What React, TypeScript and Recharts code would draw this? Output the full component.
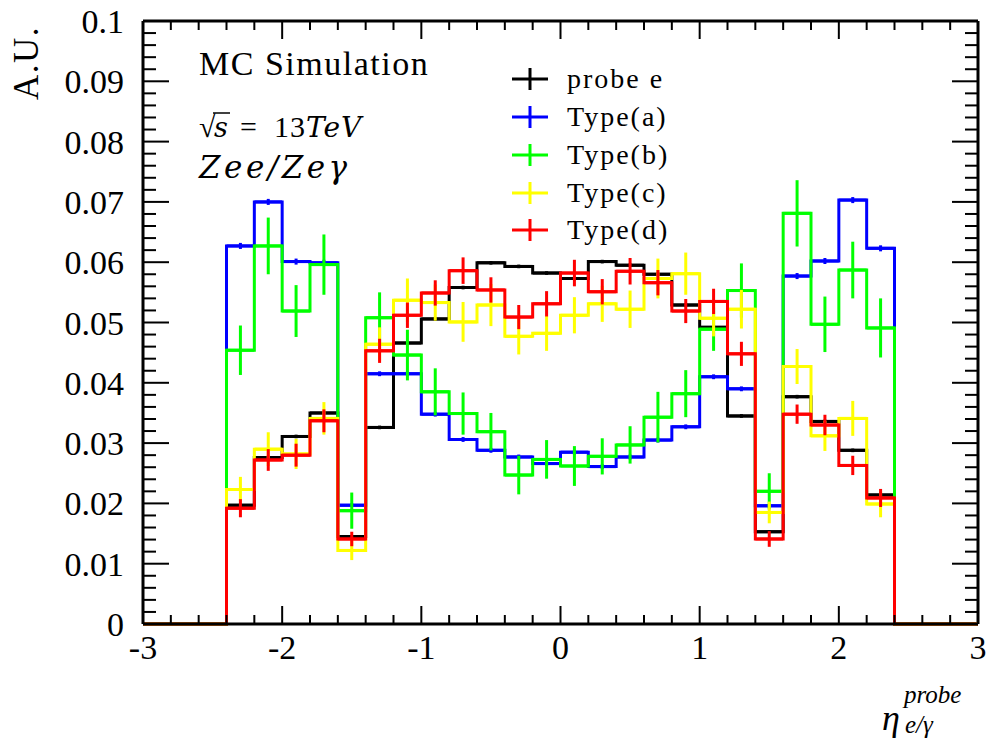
import React from "react";
import {
  ComposedChart,
  Line,
  Scatter,
  ErrorBar,
  XAxis,
  YAxis,
  ReferenceLine,
} from "recharts";

// bin edges of the eta histogram (0.2 wide)
const binEdges = [
  -3, -2.8, -2.6, -2.4, -2.2, -2, -1.8, -1.6, -1.4, -1.2, -1, -0.8, -0.6, -0.4, -0.2, 0,
  0.2, 0.4, 0.6, 0.8, 1, 1.2, 1.4, 1.6, 1.8, 2, 2.2, 2.4, 2.6, 2.8, 3,
];

const probeE = [
  0, 0, 0, 0.0197, 0.0276, 0.0311, 0.035, 0.0145, 0.0326, 0.0466, 0.0506, 0.0558, 0.0599, 0.0593, 0.0582,
  0.0573, 0.0601, 0.0595, 0.058, 0.0529, 0.0492, 0.0345, 0.0153, 0.0377, 0.0336, 0.0288, 0.0214, 0, 0, 0,
];
const typeA = [
  0, 0, 0, 0.0627, 0.07, 0.0601, 0.0599, 0.0197, 0.0415, 0.0415, 0.0348, 0.0306, 0.0288, 0.0277, 0.0266,
  0.0285, 0.0261, 0.0277, 0.0305, 0.0327, 0.041, 0.039, 0.0196, 0.0577, 0.0602, 0.0703, 0.0623, 0, 0, 0,
];
const typeB = [
  0, 0, 0, 0.0454, 0.0627, 0.0519, 0.0596, 0.0188, 0.0508, 0.0446, 0.0385, 0.0349, 0.0319, 0.0247, 0.0273,
  0.0262, 0.0278, 0.0297, 0.0343, 0.0382, 0.0489, 0.0553, 0.022, 0.0681, 0.0497, 0.0587, 0.0491, 0, 0, 0,
];
const typeC = [
  0, 0, 0, 0.0223, 0.029, 0.0282, 0.0341, 0.0122, 0.0464, 0.0537, 0.0533, 0.0501, 0.0529, 0.0477, 0.0482,
  0.0512, 0.0531, 0.0522, 0.0573, 0.0581, 0.0507, 0.0522, 0.0185, 0.0427, 0.0312, 0.0341, 0.0199, 0, 0, 0,
];
const typeD = [
  0, 0, 0, 0.0192, 0.0272, 0.028, 0.0337, 0.0141, 0.0453, 0.0512, 0.0549, 0.0586, 0.0554, 0.0509, 0.0531,
  0.0582, 0.0551, 0.0585, 0.0566, 0.0519, 0.0535, 0.0448, 0.0141, 0.0348, 0.033, 0.0263, 0.0209, 0, 0, 0,
];

// statistical errors per bin
const probeErr = [
  0, 0, 0, 0.0003, 0.0003, 0.0003, 0.0003, 0.0002, 0.0003, 0.0003, 0.0003, 0.0003, 0.0003, 0.0003, 0.0003,
  0.0003, 0.0003, 0.0003, 0.0003, 0.0003, 0.0003, 0.0003, 0.0002, 0.0003, 0.0003, 0.0003, 0.0003, 0, 0, 0,
];
const typeAErr = [
  0, 0, 0, 0.0005, 0.0005, 0.0005, 0.0005, 0.0003, 0.0004, 0.0004, 0.0004, 0.0004, 0.0004, 0.0004, 0.0004,
  0.0004, 0.0004, 0.0004, 0.0004, 0.0004, 0.0004, 0.0004, 0.0003, 0.0005, 0.0005, 0.0005, 0.0005, 0, 0, 0,
];
const typeBErr = [
  0, 0, 0, 0.0041, 0.0047, 0.0043, 0.005, 0.003, 0.0042, 0.0042, 0.0039, 0.0035, 0.0031, 0.0032, 0.0032,
  0.0033, 0.003, 0.0031, 0.0042, 0.0039, 0.0036, 0.0045, 0.003, 0.0055, 0.0046, 0.0047, 0.0049, 0, 0, 0,
];
const typeCErr = [
  0, 0, 0, 0.0021, 0.0028, 0.0025, 0.0027, 0.0016, 0.0028, 0.0036, 0.003, 0.0033, 0.0035, 0.003, 0.0029,
  0.003, 0.003, 0.0031, 0.0033, 0.0035, 0.003, 0.0032, 0.0018, 0.0029, 0.0025, 0.0029, 0.0022, 0, 0, 0,
];
const typeDErr = [
  0, 0, 0, 0.0015, 0.0018, 0.0019, 0.0019, 0.0012, 0.002, 0.0021, 0.0021, 0.0022, 0.0021, 0.002, 0.0021,
  0.0022, 0.0021, 0.0022, 0.0021, 0.002, 0.0021, 0.002, 0.0013, 0.0016, 0.0017, 0.0016, 0.0015, 0, 0, 0,
];

const xMajorLabels = ["-3", "-2", "-1", "0", "1", "2", "3"];
const yMajorLabels = ["0", "0.01", "0.02", "0.03", "0.04", "0.05", "0.06", "0.07", "0.08", "0.09", "0.1"];

const series = [
  { name: "probe e", color: "#000000", values: probeE, errs: probeErr },
  { name: "Type(a)", color: "#0000ff", values: typeA, errs: typeAErr },
  { name: "Type(b)", color: "#00ff00", values: typeB, errs: typeBErr },
  { name: "Type(c)", color: "#ffff00", values: typeC, errs: typeCErr },
  { name: "Type(d)", color: "#ff0000", values: typeD, errs: typeDErr },
];

// minor ticks: 0.2 on x, 0.002 on y
const xTicks: number[] = [];
for (let k = 0; k <= 30; k++) xTicks.push(Number((-3 + k * 0.2).toFixed(1)));
const yTicks: number[] = [];
for (let k = 0; k <= 50; k++) yTicks.push(Number((k * 0.002).toFixed(3)));

const W = 990;
const H = 742;
const PLOT_TOP = 21;
const PLOT_RIGHT = 978;
const PLOT_LEFT = 143;
const PLOT_BOTTOM = 624;
const Y_AXIS_W = 60;
const X_AXIS_H = 40;
const FONT = '"Liberation Serif", "DejaVu Serif", serif';
const MATH_FONT = '"DejaVu Serif", "Liberation Serif", serif';
const labelStyle = { fontFamily: FONT, fontSize: 34 };

function stepData(values: number[]) {
  const pts = values.map((v, i) => ({ x: binEdges[i], y: v }));
  pts.push({ x: binEdges[binEdges.length - 1], y: values[values.length - 1] });
  return pts;
}

function errData(values: number[], errs: number[]) {
  return values
    .map((v, i) => ({
      x: (binEdges[i] + binEdges[i + 1]) / 2,
      y: v,
      ex: (binEdges[i + 1] - binEdges[i]) / 2,
      ey: errs[i],
    }))
    .filter((d) => d.y > 0);
}

function XTick(props: any) {
  const { x, payload } = props;
  const v = payload.value as number;
  const major = Math.round(v * 10) % 10 === 0;
  const len = major ? 18 : 9;
  return (
    <g>
      <line x1={x} x2={x} y1={PLOT_BOTTOM} y2={PLOT_BOTTOM - len} stroke="#000" strokeWidth={2} />
      <line x1={x} x2={x} y1={PLOT_TOP} y2={PLOT_TOP + len} stroke="#000" strokeWidth={2} />
      {major && (
        <text x={x} y={PLOT_BOTTOM + 35} textAnchor="middle" style={labelStyle} fill="#000">
          {xMajorLabels[Math.round(v) + 3]}
        </text>
      )}
    </g>
  );
}

function YTick(props: any) {
  const { y, payload } = props;
  const v = payload.value as number;
  const major = Math.round(v * 1000) % 10 === 0;
  const len = major ? 26 : 13;
  return (
    <g>
      <line x1={PLOT_LEFT} x2={PLOT_LEFT + len} y1={y} y2={y} stroke="#000" strokeWidth={2} />
      <line x1={PLOT_RIGHT} x2={PLOT_RIGHT - len} y1={y} y2={y} stroke="#000" strokeWidth={2} />
      {major && (
        <text x={PLOT_LEFT - 19} y={y + 12} textAnchor="end" style={labelStyle} fill="#000">
          {yMajorLabels[Math.round(v * 100)]}
        </text>
      )}
    </g>
  );
}

const legendRows = [79, 117, 155, 193, 230];

export default function App() {
  return (
    <div style={{ position: "absolute", left: 0, top: 0, width: W, height: H, background: "#fff" }}>
      <ComposedChart
        width={W}
        height={H}
        margin={{
          top: PLOT_TOP,
          right: W - PLOT_RIGHT,
          bottom: H - PLOT_BOTTOM - X_AXIS_H,
          left: PLOT_LEFT - Y_AXIS_W,
        }}
      >
        <XAxis
          dataKey="x"
          type="number"
          domain={[-3, 3]}
          ticks={xTicks}
          interval={0}
          height={X_AXIS_H}
          tickSize={0}
          tickMargin={0}
          tickLine={false}
          axisLine={{ stroke: "#000", strokeWidth: 3 }}
          tick={XTick}
        />
        <YAxis
          type="number"
          domain={[0, 0.1]}
          ticks={yTicks}
          interval={0}
          width={Y_AXIS_W}
          tickSize={0}
          tickMargin={0}
          tickLine={false}
          axisLine={{ stroke: "#000", strokeWidth: 3 }}
          tick={YTick}
        />
        <ReferenceLine y={0.1} stroke="#000" strokeWidth={3} />
        <ReferenceLine x={3} stroke="#000" strokeWidth={3} />
        {series.map((s) => [
          <Line
            key={s.name + "-h"}
            data={stepData(s.values)}
            dataKey="y"
            type="stepAfter"
            stroke={s.color}
            strokeWidth={3}
            strokeLinejoin="miter"
            dot={false}
            activeDot={false}
            isAnimationActive={false}
            legendType="none"
          />,
          <Scatter
            key={s.name + "-e"}
            data={errData(s.values, s.errs)}
            dataKey="y"
            fill={s.color}
            shape={() => <g />}
            isAnimationActive={false}
            legendType="none"
          >
            <ErrorBar dataKey="ex" direction="x" width={0} stroke={s.color} strokeWidth={3} isAnimationActive={false} />
            <ErrorBar dataKey="ey" direction="y" width={0} stroke={s.color} strokeWidth={3} isAnimationActive={false} />
          </Scatter>,
        ])}
      </ComposedChart>
      <svg
        width={W}
        height={H}
        style={{ position: "absolute", left: 0, top: 0, pointerEvents: "none", fontFamily: FONT }}
      >
        <text transform="translate(38,63) rotate(-90)" textAnchor="middle" fontSize={35} letterSpacing={1.5} fill="#000">
          A.U.
        </text>
        <text x={199} y={75} fontSize={34} letterSpacing={1.5} fill="#000">
          MC Simulation
        </text>
        <text y={137} fontSize={30} fill="#000">
          <tspan x={199}>√</tspan>
          <tspan x={214} fontStyle="italic" style={{ fontFamily: MATH_FONT }} fontSize={27}>s</tspan>
          <tspan x={240}>=</tspan>
          <tspan x={274} letterSpacing={1}>13</tspan>
          <tspan x={306} fontStyle="italic" style={{ fontFamily: MATH_FONT }} fontSize={28} letterSpacing={1}>TeV</tspan>
        </text>
        <line x1={213} x2={230} y1={113} y2={113} stroke="#000" strokeWidth={1.5} />
        <text
          x={199}
          y={178}
          fontSize={31}
          fontStyle="italic"
          letterSpacing={3.5}
          style={{ fontFamily: MATH_FONT }}
          fill="#000"
        >
          Zee/Zeγ
        </text>
        {series.map((s, i) => (
          <g key={s.name}>
            <line x1={512} x2={548} y1={legendRows[i]} y2={legendRows[i]} stroke={s.color} strokeWidth={3} />
            <line x1={530} x2={530} y1={legendRows[i] - 11} y2={legendRows[i] + 11} stroke={s.color} strokeWidth={3} />
            <text x={567} y={legendRows[i] + 9} fontSize={28} letterSpacing={2} fill="#000">
              {s.name}
            </text>
          </g>
        ))}
        <text x={882} y={730} fontSize={36} fontStyle="italic" fill="#000">
          η
        </text>
        <text x={904} y={703} fontSize={25} fontStyle="italic" fill="#000">
          probe
        </text>
        <text x={905} y={733} fontSize={25} fontStyle="italic" fill="#000">
          e/γ
        </text>
      </svg>
    </div>
  );
}
